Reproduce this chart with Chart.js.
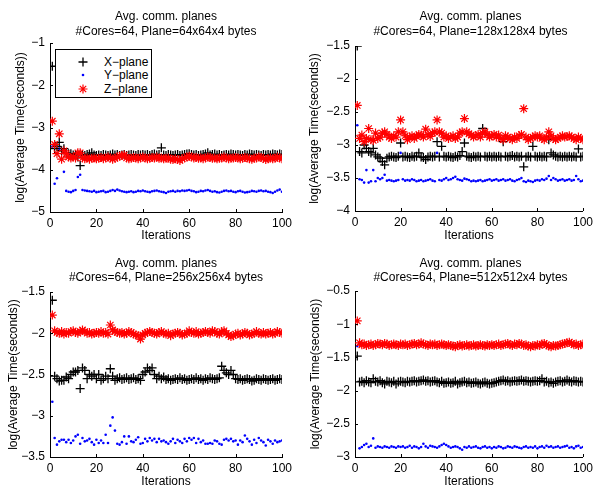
<!DOCTYPE html>
<html><head><meta charset="utf-8">
<script src="https://cdn.jsdelivr.net/npm/chart.js@4"></script>
<style>
body{margin:0;background:#fff;width:597px;height:487px;position:relative;overflow:hidden;font-family:"Liberation Sans",Arial,sans-serif}
.cv{position:absolute}
.ttl{position:absolute;font-size:12px;text-align:center;white-space:nowrap;line-height:14px;color:#000}
.legend{position:absolute;left:55px;top:49px;width:95px;height:47px;border:1px solid #000;background:#fff;font-size:12px;color:#000}
.legend .row{position:absolute;left:0;height:14px;line-height:14px;width:95px}
.legend svg{position:absolute;left:19px;top:0}
.legend span{position:absolute;left:48px;top:0}
</style></head><body>
<script>
// ---------- DATA ----------
const seriesNames = ["X\u2212plane", "Y\u2212plane", "Z\u2212plane"];
const titles = [
  ["Avg. comm. planes", "#Cores=64, Plane=64x64x4 bytes"],
  ["Avg. comm. planes", "#Cores=64, Plane=128x128x4 bytes"],
  ["Avg. comm. planes", "#Cores=64, Plane=256x256x4 bytes"],
  ["Avg. comm. planes", "#Cores=64, Plane=512x512x4 bytes"]
];
const xTicks = [0, 20, 40, 60, 80, 100];
const yTicks1 = [-5, -4, -3, -2, -1];
const yTicks2 = [-4, -3.5, -3, -2.5, -2, -1.5];
const yTicks3 = [-3.5, -3, -2.5, -2, -1.5];
const yTicks4 = [-3, -2.5, -2, -1.5, -1, -0.5];
const xLabel = "Iterations";
const yLabel = "log(Average Time(seconds))";

const p1X = [-1.55,-3.50,-3.45,-3.35,-3.55,-3.50,-3.60,-3.62,-3.62,-3.65,-3.65,-3.70,-3.90,-3.65,-3.66,-3.64,-3.63,-3.60,-3.65,-3.66,
-3.65,-3.66,-3.64,-3.65,-3.66,-3.65,-3.63,-3.65,-3.64,-3.66,-3.65,-3.64,-3.66,-3.65,-3.64,-3.65,-3.66,-3.64,-3.65,-3.64,
-3.65,-3.64,-3.66,-3.64,-3.63,-3.65,-3.64,-3.48,-3.65,-3.66,-3.64,-3.65,-3.66,-3.65,-3.64,-3.66,-3.65,-3.64,-3.63,-3.62,
-3.64,-3.65,-3.64,-3.66,-3.65,-3.64,-3.63,-3.60,-3.65,-3.64,-3.63,-3.65,-3.64,-3.66,-3.65,-3.64,-3.65,-3.63,-3.64,-3.65,
-3.64,-3.65,-3.66,-3.64,-3.65,-3.63,-3.64,-3.65,-3.64,-3.65,-3.66,-3.64,-3.65,-3.64,-3.65,-3.63,-3.64,-3.65,-3.63,-3.64];
const p1Y = [-3.45,-4.33,-4.20,-3.50,-3.75,-4.05,-4.50,-4.52,-4.53,-4.50,-4.48,-4.17,-4.12,-4.48,-4.49,-4.50,-4.51,-4.52,-4.50,-4.53,
-4.52,-4.51,-4.50,-4.53,-4.52,-4.50,-4.48,-4.50,-4.47,-4.49,-4.51,-4.52,-4.53,-4.52,-4.51,-4.53,-4.52,-4.50,-4.51,-4.49,
-4.51,-4.52,-4.53,-4.51,-4.50,-4.49,-4.51,-4.52,-4.53,-4.55,-4.52,-4.51,-4.50,-4.52,-4.50,-4.51,-4.49,-4.50,-4.49,-4.48,
-4.50,-4.51,-4.53,-4.52,-4.50,-4.51,-4.49,-4.48,-4.50,-4.52,-4.51,-4.53,-4.54,-4.52,-4.50,-4.49,-4.51,-4.50,-4.52,-4.53,
-4.51,-4.50,-4.52,-4.54,-4.53,-4.52,-4.50,-4.51,-4.52,-4.50,-4.49,-4.51,-4.50,-4.52,-4.53,-4.55,-4.52,-4.49,-4.47,-4.52];
const p1Z = [-2.85,-3.40,-3.62,-3.15,-3.75,-3.55,-3.62,-3.70,-3.72,-3.70,-3.72,-3.60,-3.60,-3.72,-3.74,-3.72,-3.75,-3.73,-3.72,-3.74,
-3.73,-3.71,-3.74,-3.72,-3.70,-3.72,-3.75,-3.73,-3.70,-3.68,-3.66,-3.65,-3.72,-3.74,-3.73,-3.71,-3.72,-3.74,-3.72,-3.70,
-3.72,-3.74,-3.73,-3.71,-3.72,-3.70,-3.73,-3.72,-3.74,-3.73,-3.72,-3.75,-3.76,-3.74,-3.76,-3.78,-3.74,-3.72,-3.70,-3.68,
-3.70,-3.72,-3.71,-3.73,-3.72,-3.74,-3.72,-3.70,-3.71,-3.73,-3.72,-3.74,-3.73,-3.72,-3.70,-3.72,-3.74,-3.73,-3.72,-3.71,
-3.72,-3.74,-3.73,-3.71,-3.72,-3.74,-3.75,-3.73,-3.72,-3.70,-3.71,-3.73,-3.76,-3.74,-3.72,-3.74,-3.73,-3.70,-3.72,-3.74];

const p2X = [-1.50,-3.10,-3.12,-3.00,-3.05,-3.10,-3.12,-3.05,-3.15,-3.18,-3.20,-3.25,-3.30,-3.20,-3.18,-3.17,-3.18,-3.19,-3.17,-2.97,
-3.18,-3.17,-3.18,-3.19,-3.17,-3.18,-3.17,-3.12,-3.18,-3.19,-3.22,-3.18,-3.17,-3.18,-3.17,-2.95,-3.18,-3.02,-3.17,-3.18,
-3.17,-3.18,-3.19,-3.17,-3.18,-3.16,-3.10,-2.97,-3.17,-3.18,-3.19,-3.17,-3.18,-3.17,-3.18,-2.75,-3.17,-3.18,-3.17,-3.18,
-3.17,-3.18,-3.17,-3.18,-2.95,-3.17,-3.18,-3.17,-3.16,-3.18,-3.17,-3.18,-3.17,-3.33,-3.18,-3.17,-3.18,-3.02,-3.17,-3.18,
-3.17,-3.18,-3.17,-3.18,-2.92,-3.12,-3.15,-3.17,-3.18,-3.17,-3.18,-3.17,-3.18,-3.17,-3.18,-3.17,-3.18,-3.06,-3.18,-3.17];
const p2Y = [-2.70,-3.52,-3.53,-3.57,-3.38,-3.57,-3.55,-3.38,-3.55,-3.50,-3.52,-3.50,-3.45,-3.54,-3.53,-3.54,-3.55,-3.54,-3.53,-3.12,
-3.52,-3.54,-3.53,-3.54,-3.52,-3.53,-3.55,-3.54,-3.53,-3.55,-3.54,-3.53,-3.52,-3.54,-3.55,-3.12,-3.53,-3.54,-3.52,-3.50,
-3.53,-3.52,-3.50,-3.48,-3.52,-3.53,-3.54,-3.51,-3.52,-3.53,-3.55,-3.54,-3.55,-3.54,-3.53,-3.55,-3.54,-3.53,-3.52,-3.54,
-3.53,-3.52,-3.54,-3.53,-3.52,-3.54,-3.53,-3.52,-3.54,-3.55,-3.53,-3.52,-3.50,-3.55,-3.56,-3.54,-3.55,-3.56,-3.54,-3.53,
-3.54,-3.52,-3.53,-3.51,-3.47,-3.53,-3.50,-3.52,-3.54,-3.53,-3.52,-3.54,-3.53,-3.52,-3.54,-3.53,-3.47,-3.52,-3.55,-3.54];
const p2Z = [-2.40,-2.90,-2.85,-2.95,-2.90,-2.75,-2.92,-2.93,-2.82,-2.90,-2.88,-2.82,-2.80,-2.84,-2.88,-2.90,-2.86,-2.88,-2.80,-2.62,
-2.80,-2.86,-2.92,-2.88,-2.86,-2.90,-2.87,-2.84,-2.85,-2.88,-2.76,-2.84,-2.87,-2.82,-2.80,-2.62,-2.80,-2.82,-2.88,-2.86,
-2.90,-2.88,-2.86,-2.90,-2.88,-2.82,-2.80,-2.60,-2.80,-2.83,-2.85,-2.88,-2.86,-2.84,-2.88,-2.82,-2.80,-2.84,-2.88,-2.86,
-2.84,-2.88,-2.85,-2.90,-2.92,-2.86,-2.88,-2.90,-2.92,-2.88,-2.90,-2.86,-2.84,-2.45,-2.88,-2.92,-2.90,-2.88,-2.86,-2.88,
-2.86,-2.90,-2.92,-2.88,-2.80,-2.86,-2.90,-2.92,-2.90,-2.88,-2.86,-2.88,-2.87,-2.86,-2.88,-2.90,-2.92,-2.88,-2.90,-2.92];

const p3X = [-1.60,-2.52,-2.55,-2.58,-2.57,-2.57,-2.53,-2.55,-2.50,-2.47,-2.47,-2.45,-2.67,-2.42,-2.45,-2.55,-2.50,-2.52,-2.50,-2.55,
-2.50,-2.57,-2.55,-2.52,-2.55,-2.43,-2.52,-2.57,-2.55,-2.54,-2.56,-2.55,-2.54,-2.56,-2.55,-2.54,-2.56,-2.55,-2.57,-2.50,
-2.47,-2.42,-2.45,-2.42,-2.50,-2.55,-2.52,-2.55,-2.53,-2.56,-2.55,-2.57,-2.56,-2.55,-2.56,-2.54,-2.56,-2.55,-2.57,-2.56,
-2.55,-2.56,-2.54,-2.56,-2.55,-2.57,-2.55,-2.56,-2.54,-2.55,-2.56,-2.55,-2.54,-2.40,-2.45,-2.48,-2.50,-2.45,-2.50,-2.55,
-2.56,-2.55,-2.57,-2.56,-2.55,-2.56,-2.58,-2.57,-2.55,-2.56,-2.57,-2.55,-2.56,-2.57,-2.56,-2.55,-2.57,-2.56,-2.55,-2.56];
const p3Y = [-2.83,-3.27,-3.35,-3.31,-3.29,-3.29,-3.32,-3.29,-3.33,-3.30,-3.25,-3.23,-3.34,-3.27,-3.31,-3.30,-3.28,-3.32,-3.35,-3.29,
-3.33,-3.30,-3.33,-3.23,-3.33,-3.12,-3.02,-3.18,-3.34,-3.35,-3.32,-3.25,-3.34,-3.25,-3.31,-3.32,-3.29,-3.26,-3.34,-3.33,
-3.28,-3.31,-3.27,-3.30,-3.28,-3.32,-3.28,-3.31,-3.30,-3.32,-3.34,-3.31,-3.28,-3.33,-3.29,-3.31,-3.33,-3.28,-3.31,-3.27,
-3.29,-3.27,-3.33,-3.28,-3.32,-3.30,-3.34,-3.34,-3.33,-3.34,-3.30,-3.31,-3.34,-3.35,-3.29,-3.28,-3.30,-3.28,-3.31,-3.30,
-3.35,-3.30,-3.32,-3.24,-3.28,-3.31,-3.35,-3.29,-3.33,-3.27,-3.30,-3.32,-3.36,-3.29,-3.31,-3.34,-3.30,-3.32,-3.31,-3.30];
const p3Z = [-1.78,-1.97,-1.99,-2.00,-1.98,-2.01,-1.99,-2.00,-1.98,-1.97,-1.99,-2.00,-1.98,-1.96,-1.98,-2.00,-1.99,-2.01,-2.00,-1.99,
-2.00,-1.98,-2.00,-1.99,-2.01,-1.90,-1.96,-1.98,-1.99,-2.00,-1.99,-2.01,-2.00,-1.98,-1.99,-2.01,-2.02,-2.03,-2.07,-2.02,
-2.00,-1.99,-1.98,-1.99,-2.00,-2.01,-1.99,-1.98,-2.00,-2.01,-2.00,-2.03,-2.01,-2.00,-1.99,-2.00,-2.02,-2.01,-2.00,-1.97,
-1.99,-2.00,-1.98,-2.01,-2.00,-1.99,-1.98,-1.99,-2.00,-1.97,-1.98,-2.00,-2.01,-1.98,-1.97,-2.00,-2.02,-2.04,-2.03,-2.01,
-2.00,-2.02,-2.01,-1.99,-2.00,-2.02,-2.01,-2.00,-1.98,-2.00,-2.01,-1.99,-2.01,-2.00,-1.99,-2.01,-2.00,-1.98,-1.99,-2.00];

const p4X = [-1.48,-1.87,-1.86,-1.88,-1.85,-1.87,-1.88,-1.82,-1.86,-1.87,-1.85,-1.88,-1.90,-1.86,-1.87,-1.88,-1.86,-1.90,-1.87,-1.86,
-1.87,-1.88,-1.86,-1.87,-1.86,-1.85,-1.87,-1.86,-1.85,-1.84,-1.86,-1.85,-1.87,-1.86,-1.85,-1.87,-1.88,-1.86,-1.89,-1.88,
-1.87,-1.89,-1.88,-1.86,-1.90,-1.88,-1.87,-1.86,-1.88,-1.87,-1.89,-1.88,-1.87,-1.89,-1.90,-1.88,-1.87,-1.89,-1.90,-1.89,
-1.88,-1.87,-1.86,-1.85,-1.84,-1.86,-1.85,-1.87,-1.86,-1.85,-1.86,-1.85,-1.84,-1.86,-1.85,-1.86,-1.87,-1.86,-1.85,-1.86,
-1.85,-1.82,-1.87,-1.86,-1.88,-1.87,-1.89,-1.87,-1.86,-1.85,-1.87,-1.86,-1.84,-1.86,-1.87,-1.85,-1.86,-1.87,-1.86,-1.87];
const p4Y = [-1.33,-2.87,-2.85,-2.82,-2.80,-2.85,-2.83,-2.72,-2.86,-2.84,-2.85,-2.86,-2.84,-2.85,-2.86,-2.84,-2.85,-2.86,-2.84,-2.85,
-2.84,-2.86,-2.85,-2.83,-2.86,-2.84,-2.85,-2.87,-2.85,-2.80,-2.84,-2.86,-2.83,-2.84,-2.85,-2.86,-2.84,-2.82,-2.80,-2.82,
-2.84,-2.86,-2.85,-2.84,-2.85,-2.87,-2.89,-2.85,-2.86,-2.84,-2.86,-2.85,-2.84,-2.86,-2.87,-2.85,-2.84,-2.86,-2.85,-2.87,
-2.85,-2.86,-2.84,-2.85,-2.87,-2.86,-2.84,-2.85,-2.86,-2.84,-2.85,-2.86,-2.87,-2.85,-2.84,-2.86,-2.85,-2.86,-2.84,-2.87,
-2.85,-2.84,-2.86,-2.83,-2.85,-2.84,-2.86,-2.85,-2.84,-2.86,-2.85,-2.84,-2.83,-2.86,-2.85,-2.87,-2.84,-2.83,-2.86,-2.85];
const p4Z = [-0.95,-1.28,-1.31,-1.30,-1.32,-1.31,-1.30,-1.32,-1.31,-1.29,-1.30,-1.31,-1.29,-1.30,-1.32,-1.31,-1.30,-1.31,-1.32,-1.30,
-1.31,-1.30,-1.32,-1.31,-1.30,-1.29,-1.31,-1.30,-1.28,-1.30,-1.31,-1.32,-1.30,-1.31,-1.30,-1.32,-1.31,-1.30,-1.31,-1.32,
-1.31,-1.32,-1.33,-1.34,-1.32,-1.31,-1.33,-1.32,-1.31,-1.33,-1.32,-1.31,-1.33,-1.32,-1.31,-1.32,-1.33,-1.31,-1.32,-1.31,
-1.32,-1.31,-1.30,-1.32,-1.31,-1.30,-1.29,-1.31,-1.32,-1.30,-1.31,-1.29,-1.30,-1.32,-1.31,-1.33,-1.34,-1.32,-1.33,-1.31,
-1.32,-1.30,-1.29,-1.31,-1.33,-1.34,-1.32,-1.33,-1.32,-1.31,-1.30,-1.29,-1.28,-1.27,-1.29,-1.31,-1.30,-1.32,-1.31,-1.30];

// ---------- LAYOUT ----------
const FONT = '"Liberation Sans", Arial, sans-serif';
const panels = [
  {x:p1X, y:p1Y, z:p1Z, yt:yTicks1, t:titles[0], box:[0,0,298,244],   area:{top:43,right:16}, xh:32, tt:[9,24],  yp:13},
  {x:p2X, y:p2Y, z:p2Z, yt:yTicks2, t:titles[1], box:[305,0,292,244], area:{top:46,right:11}, xh:33, tt:[9,24],  yp:2},
  {x:p3X, y:p3Y, z:p3Z, yt:yTicks3, t:titles[2], box:[0,244,298,246], area:{top:48,right:16}, xh:33, tt:[12,26], yp:6},
  {x:p4X, y:p4Y, z:p4Z, yt:yTicks4, t:titles[3], box:[305,244,292,246],area:{top:47,right:11}, xh:33, tt:[12,26], yp:3}
];

const fmt = v => (v < 0 ? '\u2212' : '') + String(Math.abs(v));
const toPts = arr => arr.map((v, i) => ({x: i + 1, y: v}));

const inwardTicks = {
  id: 'inwardTicks',
  afterDraw(chart) {
    const {ctx, chartArea: a, scales: {x, y}} = chart;
    ctx.save();
    ctx.strokeStyle = '#000'; ctx.lineWidth = 1;
    ctx.beginPath();
    x.ticks.forEach(t => { const p = Math.round(x.getPixelForValue(t.value)) + 0.5; ctx.moveTo(p, a.bottom); ctx.lineTo(p, a.bottom - 3); });
    y.ticks.forEach(t => { const p = Math.round(y.getPixelForValue(t.value)) + 0.5; ctx.moveTo(a.left, p); ctx.lineTo(a.left + 3, p); });
    ctx.stroke();
    ctx.restore();
  }
};

panels.forEach((P) => {
  const [bx, by, bw, bh] = P.box;
  const cv = document.createElement('canvas');
  cv.className = 'cv';
  cv.style.left = bx + 'px'; cv.style.top = by + 'px';
  cv.style.width = bw + 'px'; cv.style.height = bh + 'px';
  cv.width = bw; cv.height = bh;
  document.body.appendChild(cv);

  P.t.forEach((line, k) => {
    const d = document.createElement('div');
    d.className = 'ttl';
    const cx = bx + 50 + (bw - 50 - P.area.right) / 2;
    d.style.left = (cx - 150) + 'px'; d.style.width = '300px';
    d.style.top = (by + P.tt[k]) + 'px';
    d.textContent = line;
    document.body.appendChild(d);
  });

  const yt = P.yt;
  new Chart(cv, {
    type: 'scatter',
    data: {
      datasets: [
        {label: seriesNames[2], data: toPts(P.z), pointStyle: 'star', radius: 4.5, borderColor: '#ff0000', backgroundColor: '#ff0000', borderWidth: 1.2, order: 0},
        {label: seriesNames[0], data: toPts(P.x), pointStyle: 'cross', radius: 4.5, borderColor: '#000000', backgroundColor: '#000000', borderWidth: 1.3, order: 1},
        {label: seriesNames[1], data: toPts(P.y), pointStyle: 'circle', radius: 1.3, borderWidth: 0, borderColor: '#0000ff', backgroundColor: '#0000ff', order: 2}
      ]
    },
    options: {
      responsive: false, animation: false, events: [],
      layout: {padding: {top: P.area.top, right: P.area.right, left: 0, bottom: 0}},
      plugins: {legend: {display: false}, tooltip: {enabled: false}, title: {display: false}},
      elements: {point: {hoverRadius: 4}},
      scales: {
        x: {
          type: 'linear', min: 0, max: 100,
          afterBuildTicks: s => { s.ticks = xTicks.map(v => ({value: v})); },
          afterFit: s => { s.height = P.xh; },
          grid: {display: false, drawTicks: false},
          border: {display: true, color: '#000', width: 1},
          ticks: {color: '#000', font: {family: FONT, size: 12}, padding: 4, maxRotation: 0, autoSkip: false},
          title: {display: true, text: xLabel, color: '#000', font: {family: FONT, size: 12}, padding: {top: 0, bottom: 1}}
        },
        y: {
          type: 'linear', min: yt[0], max: yt[yt.length - 1],
          afterBuildTicks: s => { s.ticks = yt.map(v => ({value: v})); },
          afterFit: s => { s.width = 50; },
          grid: {display: false, drawTicks: false},
          border: {display: true, color: '#000', width: 1},
          ticks: {color: '#000', font: {family: FONT, size: 12}, padding: 5, callback: v => fmt(v), autoSkip: false},
          title: {display: true, text: yLabel, color: '#000', font: {family: FONT, size: 12}, padding: {top: P.yp, bottom: 0}}
        }
      }
    },
    plugins: [inwardTicks]
  });
});

// ---------- LEGEND (panel 1) ----------
const leg = document.createElement('div');
leg.className = 'legend';
const markers = [
  '<svg width="16" height="14"><path d="M8 2.5v9M3.5 7h9" stroke="#000" stroke-width="1.3"/></svg>',
  '<svg width="16" height="14"><circle cx="8" cy="7" r="1.3" fill="#0000ff"/></svg>',
  '<svg width="16" height="14"><path d="M8 2.5v9M3.5 7h9M4.8 3.8l6.4 6.4M11.2 3.8l-6.4 6.4" stroke="#ff0000" stroke-width="1.2"/></svg>'
];
const rowTops = [5, 18, 32];
seriesNames.forEach((n, i) => {
  const r = document.createElement('div');
  r.className = 'row'; r.style.top = rowTops[i] + 'px';
  r.innerHTML = markers[i] + '<span></span>';
  r.querySelector('span').textContent = n;
  leg.appendChild(r);
});
document.body.appendChild(leg);
</script>
</body></html>
